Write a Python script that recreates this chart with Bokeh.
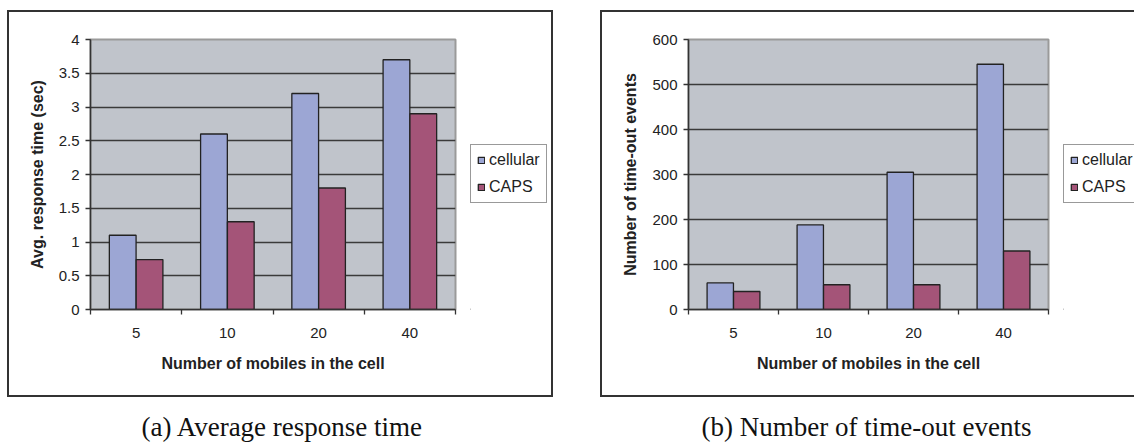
import numpy as np
from bokeh.plotting import figure
from bokeh.models import (FixedTicker, NumeralTickFormatter, Legend, LegendItem,
                          Label, Range1d, InlineStyleSheet)
from bokeh.layouts import row, column
from bokeh.embed import file_html
from bokeh.resources import INLINE

# ---------------- data ----------------
categories = ["5", "10", "20", "40"]
series = ["cellular", "CAPS"]
resp_cellular = [1.1, 2.6, 3.2, 3.7]
resp_caps = [0.74, 1.3, 1.8, 2.9]
timeout_cellular = [59, 188, 305, 545]
timeout_caps = [40, 55, 55, 130]
resp_ticks = [0, 0.5, 1, 1.5, 2, 2.5, 3, 3.5, 4]
timeout_ticks = [0, 100, 200, 300, 400, 500, 600]
x_title = "Number of mobiles in the cell"
y_titles = ["Avg. response time (sec)", "Number of time-out events"]
captions = ["(a) Average response time", "(b) Number of time-out events"]

# ---------------- styles ----------------
PLOT_BG = "#C0C4CB"
COL_CELL = "#9CA6D4"
COL_CAPS = "#A45478"
DARK = "#333333"
SANS = "Liberation Sans"
SERIF = "Liberation Serif"
CH = 400      # chart height
CAP_H = 45    # caption strip height


def box_css(left, top, width, height):
    return InlineStyleSheet(css=f"""
:host::after {{
  content: "";
  position: absolute;
  left: {left}px; top: {top}px;
  width: {width}px; height: {height}px;
  border: 2px solid {DARK};
  box-sizing: border-box;
  pointer-events: none;
}}
""")


def make_chart(cell, caps, yticks, ytitle, width, bl, bb, box):
    n = len(categories)
    pos = np.arange(n) + 0.5
    p = figure(width=width, height=CH, x_range=Range1d(0, n),
               y_range=Range1d(yticks[0], yticks[-1]),
               output_backend="svg", toolbar_location=None,
               min_border_left=bl, min_border_right=15,
               min_border_top=39, min_border_bottom=bb)
    p.background_fill_color = PLOT_BG
    p.border_fill_color = "white"
    p.outline_line_color = "#9A9A9A"
    p.outline_line_width = 2

    p.vbar(x=pos - 0.147, top=cell, width=0.293, fill_color=COL_CELL,
           line_color="#222222", line_width=1.3)
    p.vbar(x=pos + 0.147, top=caps, width=0.293, fill_color=COL_CAPS,
           line_color="#222222", line_width=1.3)

    # x axis
    xa = p.xaxis[0]
    xa.ticker = FixedTicker(ticks=list(pos), minor_ticks=list(range(n + 1)))
    xa.major_label_overrides = {float(v): c for v, c in zip(pos, categories)}
    xa.major_tick_line_color = None
    xa.minor_tick_in = 0
    xa.minor_tick_out = 5
    xa.minor_tick_line_color = DARK
    xa.minor_tick_line_width = 1.3
    xa.axis_line_color = DARK
    xa.axis_line_width = 1.5
    xa.major_label_text_font = SANS
    xa.major_label_text_font_size = "15px"
    xa.major_label_text_color = "#222222"
    xa.major_label_standoff = 12
    xa.axis_label = x_title
    xa.axis_label_text_font = SANS
    xa.axis_label_text_font_style = "bold"
    xa.axis_label_text_font_size = "16px"
    xa.axis_label_text_color = "#222222"
    xa.axis_label_standoff = 14

    # y axis
    ya = p.yaxis[0]
    ya.ticker = FixedTicker(ticks=yticks)
    ya.formatter = NumeralTickFormatter(format="0.[0]")
    ya.major_tick_in = 0
    ya.major_tick_out = 5
    ya.minor_tick_line_color = None
    ya.major_tick_line_color = DARK
    ya.major_tick_line_width = 1.3
    ya.axis_line_color = DARK
    ya.axis_line_width = 1.5
    ya.major_label_text_font = SANS
    ya.major_label_text_font_size = "15px"
    ya.major_label_text_color = "#222222"
    ya.major_label_standoff = 6
    ya.axis_label = ytitle
    ya.axis_label_text_font = SANS
    ya.axis_label_text_font_style = "bold"
    ya.axis_label_text_font_size = "16px"
    ya.axis_label_text_color = "#222222"
    ya.axis_label_standoff = 10

    # grid
    p.xgrid.visible = False
    p.ygrid.ticker = FixedTicker(ticks=yticks[1:-1])
    p.ygrid.grid_line_color = "#3A3A3A"
    p.ygrid.grid_line_width = 1.3

    # outer frame box drawn around the chart (extends over the legend strip)
    p.stylesheets = [box_css(*box)]
    return p


def make_legend_strip(width):
    lf = figure(width=width, height=CH, x_range=Range1d(0, 1), y_range=Range1d(0, 1),
                output_backend="svg", toolbar_location=None,
                x_axis_type=None, y_axis_type=None, min_border=0)
    lf.outline_line_color = None
    lf.background_fill_alpha = 0
    lf.border_fill_alpha = 0
    lf.grid.visible = False
    # legend-only placeholder renderers (outside the visible range)
    g1 = lf.vbar(x=[-1], top=[0], width=0.3, fill_color=COL_CELL,
                 line_color="#222222", line_width=1.3)
    g2 = lf.vbar(x=[-1], top=[0], width=0.3, fill_color=COL_CAPS,
                 line_color="#222222", line_width=1.3)
    legend = Legend(items=[LegendItem(label=series[0], renderers=[g1]),
                           LegendItem(label=series[1], renderers=[g2])],
                    location=(0, 106))
    legend.border_line_color = DARK
    legend.border_line_width = 1
    legend.background_fill_color = "white"
    legend.background_fill_alpha = 1
    legend.label_text_font = SANS
    legend.label_text_font_size = "16px"
    legend.label_text_color = "#222222"
    legend.glyph_width = 8
    legend.glyph_height = 8
    legend.label_standoff = 4
    legend.label_height = 18
    legend.padding = 6
    legend.spacing = 9
    legend.margin = 0
    lf.add_layout(legend)
    return lf


def make_caption(text, cx, width=567):
    c = figure(width=width, height=CAP_H, x_range=Range1d(0, width),
               y_range=Range1d(0, CAP_H), output_backend="svg",
               toolbar_location=None, x_axis_type=None, y_axis_type=None,
               min_border=0)
    c.outline_line_color = None
    c.grid.visible = False
    c.background_fill_color = "white"
    c.border_fill_color = "white"
    c.add_layout(Label(x=cx, y=CAP_H - 26, text=text, text_align="center",
                       text_baseline="middle", text_font=SERIF,
                       text_font_size="27px", text_color="#111111"))
    return c


p1 = make_chart(resp_cellular, resp_caps, resp_ticks, y_titles[0],
                470, 90, CH - 309, (7, 10, 546, 387))
l1 = make_legend_strip(97)
p2 = make_chart(timeout_cellular, timeout_caps, timeout_ticks, y_titles[1],
                496, 121, CH - 310, (33, 10, 580, 387))
l2 = make_legend_strip(71)
c1 = make_caption(captions[0], 282)
c2 = make_caption(captions[1], 299)

clip = InlineStyleSheet(css=":host { overflow: hidden; }")
top = row(p1, l1, p2, l2, spacing=0, width=1134, stylesheets=[clip])
bottom = row(c1, c2, spacing=0)
layout = column(top, bottom, spacing=0)
open("out.html", "w").write(file_html(layout, INLINE))
